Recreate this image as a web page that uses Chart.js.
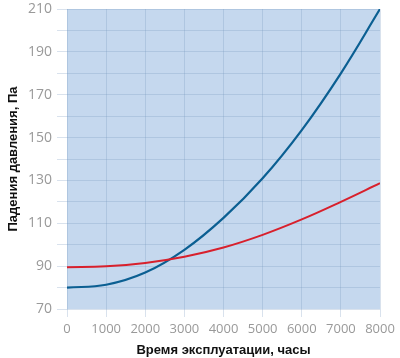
<!DOCTYPE html>
<html><head><meta charset="utf-8">
<script src="https://cdn.jsdelivr.net/npm/chart.js@4/dist/chart.umd.min.js"></script>
<style>html,body{margin:0;padding:0;background:#fff}#w{width:400px;height:358px}</style>
</head><body><div id="w"><canvas id="c"></canvas></div>
<script>
const hours = [0, 1000, 2000, 3000, 4000, 5000, 6000, 7000, 8000];
const blueSeries = [80, 81.3, 87, 97.6, 112.5, 131, 153.5, 180, 210];
const redSeries = [89.5, 89.9, 91.5, 94.4, 98.7, 104.6, 111.8, 120, 128.7];
const xTicks = [0, 1000, 2000, 3000, 4000, 5000, 6000, 7000, 8000];
const yTicks = [70, 90, 110, 130, 150, 170, 190, 210];
const xTitle = 'Время эксплуатации, часы';
const yTitle = 'Падения давления, Па';

const bgPlugin = {id:'bg', beforeDraw(ch){const a=ch.chartArea,c=ch.ctx;c.save();c.fillStyle='#c5d8ee';c.fillRect(a.left,a.top,a.right-a.left,a.bottom-a.top);c.restore();}};
new Chart(document.getElementById('c'), {
  type:'line',
  data:{datasets:[
    {data:hours.map((h,i)=>({x:h,y:redSeries[i]})), borderColor:'#d8202c', borderWidth:2, pointRadius:0, tension:0.4},
    {data:hours.map((h,i)=>({x:h,y:blueSeries[i]})), borderColor:'#0b5f92', borderWidth:2.2, pointRadius:0, tension:0.4}
  ]},
  options:{
    responsive:true, maintainAspectRatio:false, animation:false,
    layout:{padding:{top:0,right:20,left:0,bottom:0}},
    plugins:{legend:{display:false},tooltip:{enabled:false}},
    scales:{
      x:{type:'linear',min:0,max:8000,
        afterBuildTicks:s=>{s.ticks=xTicks.map(v=>({value:v}));},
        afterFit:s=>{s.height=49;},
        ticks:{color:'#999',font:{family:'"Open Sans", sans-serif', size:13},maxRotation:0,padding:4,callback:v=>String(v)},
        grid:{color:'rgba(120,150,190,0.28)',tickLength:8},
        border:{display:false},
        title:{display:true,text:xTitle,color:'#111',font:{family:'"Liberation Sans", Arial, sans-serif',size:13,weight:'bold'},padding:{top:2,bottom:0}}
      },
      y:{min:70,max:210,
        afterFit:s=>{s.width=67;s.paddingTop=9;},
        ticks:{stepSize:10,color:'#999',font:{family:'"Open Sans", sans-serif', size:14},padding:5,callback:v=>yTicks.includes(v)?String(v):''},
        grid:{color:'rgba(120,150,190,0.28)',tickLength:10},
        border:{display:false},
        title:{display:true,text:yTitle,color:'#111',font:{family:'"Liberation Sans", Arial, sans-serif',size:13,weight:'bold'},padding:{top:6,bottom:0}}
      }
    }
  },
  plugins:[bgPlugin]
});
</script></body></html>
